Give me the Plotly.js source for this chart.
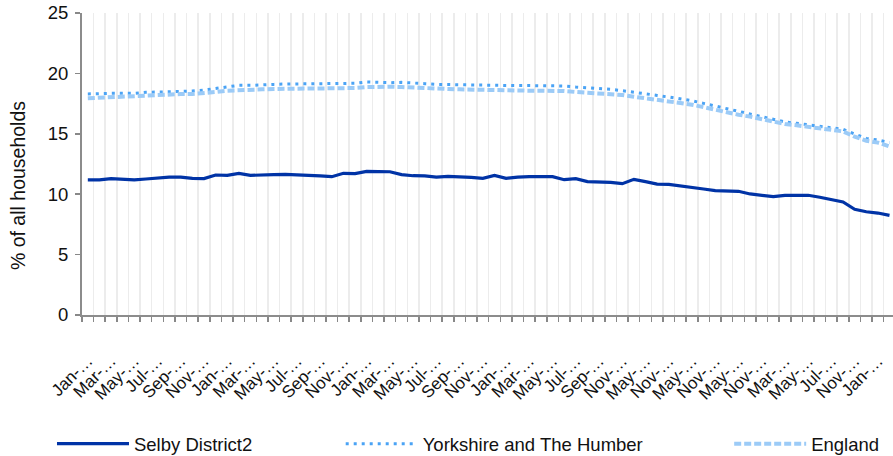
<!DOCTYPE html>
<html>
<head>
<meta charset="utf-8">
<script src="https://cdn.plot.ly/plotly-3.0.1.min.js"></script>
<style>html,body{margin:0;padding:0;background:#fff;overflow:hidden;}#chart{width:893px;height:456px;}</style>
</head>
<body>
<div id="chart"></div>
<script>
const categories = [
  "Jan-2015","Feb-2015","Mar-2015","Apr-2015","May-2015","Jun-2015","Jul-2015","Aug-2015","Sep-2015","Oct-2015","Nov-2015","Dec-2015",
  "Jan-2016","Feb-2016","Mar-2016","Apr-2016","May-2016","Jun-2016","Jul-2016","Aug-2016","Sep-2016","Oct-2016","Nov-2016","Dec-2016",
  "Jan-2017","Feb-2017","Mar-2017","Apr-2017","May-2017","Jun-2017","Jul-2017","Aug-2017","Sep-2017","Oct-2017","Nov-2017","Dec-2017",
  "Jan-2018","Feb-2018","Mar-2018","Apr-2018","May-2018","Jun-2018","Jul-2018","Aug-2018","Sep-2018","Oct-2018","Nov-2018","Dec-2018",
  "May-2019","Aug-2019","Nov-2019","Feb-2020","May-2020","Aug-2020","Nov-2020","Feb-2021","May-2021","Aug-2021","Nov-2021","Jan-2022",
  "Mar-2022","Apr-2022","May-2022","Jun-2022","Jul-2022","Sep-2022","Nov-2022","Dec-2022","Jan-2023","Feb-2023"
];

const selby = [11.18,11.18,11.29,11.23,11.18,11.26,11.34,11.42,11.42,11.31,11.29,11.59,
  11.56,11.73,11.56,11.56,11.62,11.64,11.62,11.56,11.51,11.45,11.73,11.70,
  11.89,11.86,11.86,11.62,11.53,11.51,11.42,11.48,11.45,11.40,11.31,11.56,
  11.31,11.42,11.45,11.48,11.45,11.20,11.29,11.04,11.01,10.98,10.87,11.23,
  11.04,10.84,10.82,10.71,10.57,10.43,10.29,10.24,10.24,10.02,9.91,9.80,
  9.91,9.91,9.91,9.75,9.58,9.36,8.75,8.55,8.44,8.25];

const yorkshire = [18.30,18.35,18.35,18.35,18.35,18.43,18.46,18.46,18.51,18.54,18.62,18.76,
  18.90,19.01,19.01,19.07,19.09,19.12,19.12,19.15,19.15,19.15,19.18,19.18,
  19.29,19.23,19.23,19.26,19.23,19.15,19.09,19.07,19.04,19.01,18.99,18.99,
  18.99,18.99,18.99,18.99,18.99,18.96,18.87,18.82,18.74,18.68,18.57,18.46,
  18.35,18.18,18.04,17.91,17.74,17.52,17.30,17.08,16.86,16.61,16.36,16.14,
  15.98,15.87,15.76,15.65,15.51,15.37,14.98,14.62,14.49,14.27];

const england = [17.94,17.99,18.02,18.02,18.07,18.13,18.18,18.24,18.29,18.29,18.35,18.46,
  18.57,18.63,18.65,18.68,18.71,18.71,18.73,18.73,18.73,18.73,18.76,18.79,
  18.87,18.90,18.90,18.87,18.85,18.79,18.73,18.71,18.68,18.65,18.63,18.60,
  18.57,18.57,18.57,18.57,18.57,18.54,18.46,18.40,18.35,18.29,18.21,18.07,
  17.96,17.80,17.66,17.55,17.41,17.19,16.97,16.80,16.58,16.42,16.20,15.98,
  15.81,15.70,15.59,15.48,15.37,15.20,14.76,14.43,14.27,13.95];

const seriesNames = ["Selby District2", "Yorkshire and The Humber", "England"];
const yTicks = [0, 5, 10, 15, 20, 25];
const yTitle = "% of all households";

// Excel-style truncated labels, shown on every second category
const tickText = categories.map((c, i) => i % 2 === 0 ? c.split("-")[0] + "-\u2026" : "");

const FONT = "Liberation Sans, Arial, sans-serif";

const traces = [
  {x: categories, y: selby, name: seriesNames[0], type: "scatter", mode: "lines",
   line: {color: "#0033a6", width: 3.2}, legend: "legend"},
  {x: categories, y: yorkshire, name: seriesNames[1], type: "scatter", mode: "lines",
   line: {color: "#4aa3f5", width: 3, dash: "3px,5px"}, legend: "legend2"},
  {x: categories, y: england, name: seriesNames[2], type: "scatter", mode: "lines",
   line: {color: "#9ccbf7", width: 4, dash: "7px,3px"}, legend: "legend3"}
];

const legendBase = {orientation: "h", yref: "container", yanchor: "middle", y: 0.026, xanchor: "left",
  font: {family: FONT, size: 18.5, color: "#111"}, bgcolor: "rgba(0,0,0,0)", itemwidth: 72};

const layout = {
  width: 893, height: 456,
  margin: {l: 82, r: 0, t: 13, b: 141, autoexpand: false},
  paper_bgcolor: "#fff", plot_bgcolor: "#fff",
  font: {family: FONT, size: 16, color: "#111"},
  xaxis: {
    type: "category",
    range: [-0.5, 69.3],
    tickmode: "array",
    tickvals: categories,
    ticktext: tickText,
    tickson: "boundaries",
    showgrid: true, gridcolor: "#ececec", gridwidth: 1.5,
    ticks: "outside", ticklen: 5, tickcolor: "#888", tickwidth: 1.5,
    showline: true, linecolor: "#8c8c8c", linewidth: 2,
    tickangle: -45,
    ticklabelstandoff: 27,
    tickfont: {family: FONT, size: 17, color: "#111"},
    zeroline: false, fixedrange: true
  },
  yaxis: {
    range: [0, 25],
    tickmode: "array", tickvals: yTicks,
    showgrid: false, zeroline: false,
    showline: true, linecolor: "#8c8c8c", linewidth: 2,
    ticks: "outside", ticklen: 5, tickcolor: "#888", tickwidth: 1.5,
    tickfont: {family: FONT, size: 18.5, color: "#111"},
    ticklabelstandoff: 3,
    fixedrange: true
  },
  annotations: [{
    text: yTitle, textangle: -90, xref: "paper", yref: "paper",
    x: -0.079, xanchor: "center", y: 0.43, yanchor: "middle", showarrow: false,
    font: {family: FONT, size: 19.5, color: "#111"}
  }],
  showlegend: true,
  legend: Object.assign({}, legendBase, {x: -0.037}),
  legend2: Object.assign({}, legendBase, {x: 0.319}),
  legend3: Object.assign({}, legendBase, {x: 0.798})
};

Plotly.newPlot("chart", traces, layout, {displayModeBar: false, staticPlot: true});
</script>
</body>
</html>
